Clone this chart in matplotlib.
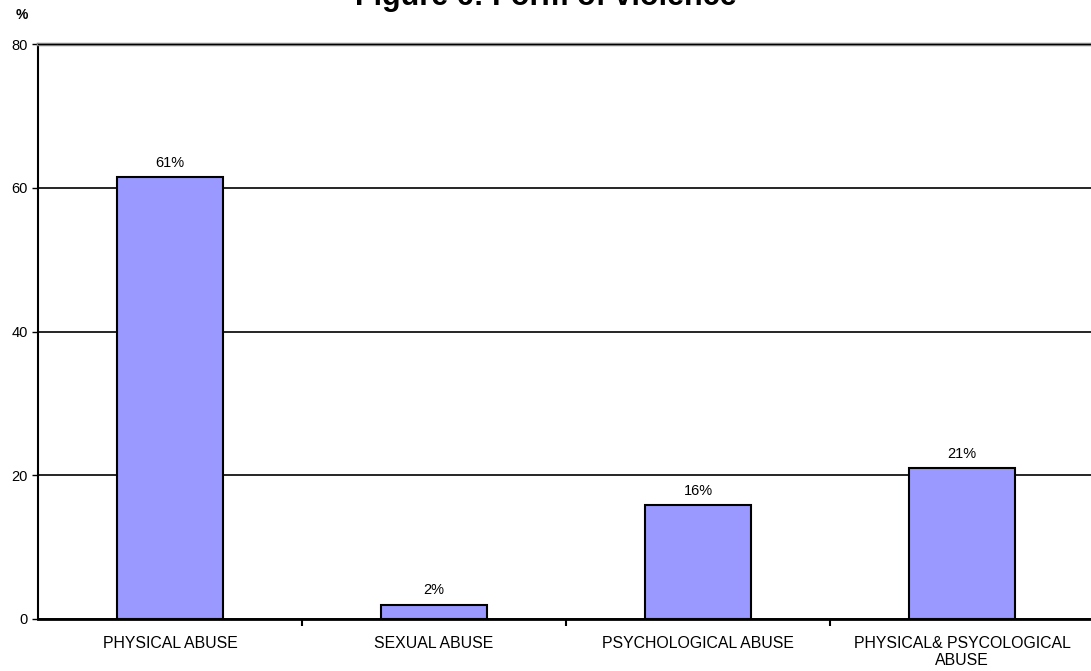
import matplotlib.pyplot as plt
import numpy as np

plt.rcParams['font.family'] = ['Liberation Sans', 'DejaVu Sans']

# data
categories = ['PHYSICAL ABUSE', 'SEXUAL ABUSE', 'PSYCHOLOGICAL ABUSE',
              'PHYSICAL& PSYCOLOGICAL\nABUSE']
values = [61.5, 2.0, 15.8, 21.0]
labels = ['61%', '2%', '16%', '21%']

fig = plt.figure(figsize=(10.91, 6.71), dpi=100)
ax = fig.add_axes([38 / 1091, 52 / 671, 1056 / 1091, 575 / 671])

x = np.arange(len(categories))
bars = ax.bar(x, values, width=0.405, color='#9999FF', edgecolor='black',
              linewidth=1.5, zorder=3)

for b, lab in zip(bars, labels):
    ax.text(b.get_x() + b.get_width() / 2, b.get_height() + 1.0, lab,
            ha='center', va='bottom', fontsize=10.5)

ax.set_xlim(-0.5, 3.5)
ax.set_ylim(0, 80)
ax.set_yticks([0, 20, 40, 60, 80])
ax.tick_params(axis='y', labelsize=10.5, length=4, width=1, direction='out')
ax.yaxis.grid(True, color='black', linewidth=1.2, zorder=0)

# category labels in the middle, tick marks on the boundaries
ax.set_xticks(x)
ax.set_xticklabels(categories, fontsize=11.4)
ax.tick_params(axis='x', length=0, pad=12)
ax.set_xticks([0.5, 1.5, 2.5], minor=True)
ax.tick_params(axis='x', which='minor', length=5, width=1.5, direction='out')

ax.spines['right'].set_visible(False)
ax.spines['top'].set_color('#808080')
ax.spines['top'].set_linewidth(2.5)
ax.spines['left'].set_linewidth(1.5)
ax.spines['bottom'].set_linewidth(2)
ax.axhline(80, color='black', linewidth=1.5, zorder=4)

fig.text(0.5, 1 - 5 / 671, 'Figure 6: Form of violence', ha='center',
         va='baseline', fontsize=22, fontweight='bold')
fig.text(22 / 1091, 1 - 15 / 671, '%', ha='center', va='center',
         fontsize=10, fontweight='bold')

fig.savefig('out.png', dpi=100)
